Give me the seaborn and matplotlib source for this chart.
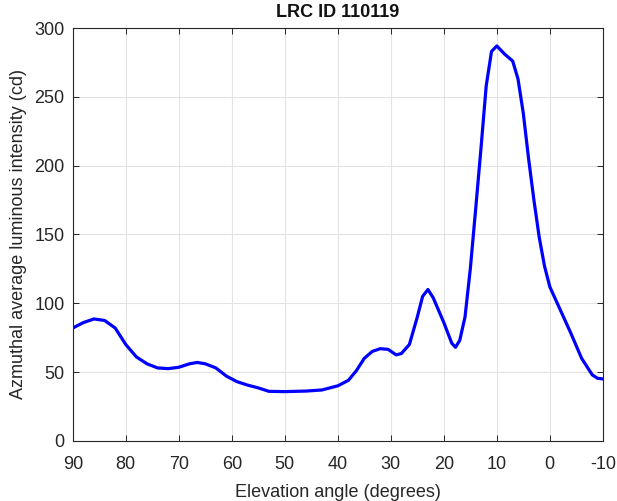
import matplotlib
matplotlib.use("Agg")
import matplotlib.pyplot as plt
import seaborn as sns
import pandas as pd

# Elevation angle (degrees) and azimuthal average luminous intensity (cd)
elevation = [90, 88, 86, 84, 82, 80, 78, 76, 74, 72, 70, 68, 66.5, 65, 63, 61, 59, 57,
             55, 53, 50, 46, 43, 40, 38, 36.5, 35, 33.5, 32, 30.5, 29, 28, 26.5, 25,
             24, 23, 22, 20, 18.5, 17.8, 17, 16, 15, 14, 13, 12, 11, 10, 8.5, 7, 6,
             5, 4, 3, 2, 1, 0, -2, -4, -6, -8, -9, -10]
intensity = [82, 86, 88.6, 87.5, 82, 70, 61, 56, 53, 52.5, 53.5, 56, 57, 56, 53, 47, 43,
             40.5, 38.5, 36, 35.8, 36.2, 37, 40, 44, 51, 60, 65, 67, 66.5, 62.5, 63.5,
             70, 90, 105, 110, 104, 86, 71, 68, 73, 90, 125, 168, 212, 258, 283, 287,
             281, 276, 263, 238, 205, 175, 148, 127, 112, 95, 78, 60, 48, 45.5, 45]

x_ticks = [90, 80, 70, 60, 50, 40, 30, 20, 10, 0, -10]
y_ticks = [0, 50, 100, 150, 200, 250, 300]

df = pd.DataFrame({"elevation": elevation, "intensity": intensity})

sns.set_theme(style="white")
plt.rcParams["font.family"] = ["Liberation Sans", "DejaVu Sans"]

fig = plt.figure(figsize=(6.17, 5.01), dpi=100)
ax = fig.add_axes([0.118, 0.12, 0.859, 0.824])

sns.lineplot(data=df, x="elevation", y="intensity", sort=False,
             color="#0000ff", linewidth=2.3, ax=ax)

ax.set_xlim(90, -10)
ax.set_ylim(0, 300)
ax.set_xticks(x_ticks)
ax.set_xticklabels([str(t) for t in x_ticks])
ax.set_yticks(y_ticks)
ax.grid(True, color="#e3e3e3", linewidth=0.8)
ax.set_axisbelow(True)
for side in ["left", "right", "top", "bottom"]:
    ax.spines[side].set_visible(True)
    ax.spines[side].set_color("#262626")
    ax.spines[side].set_linewidth(0.8)
ax.tick_params(axis="both", direction="in", length=4, width=0.7, color="#262626",
               labelsize=13, labelcolor="#262626", top=True, right=True,
               bottom=True, left=True)
ax.tick_params(axis="x", pad=11)
ax.tick_params(axis="y", pad=6)

ax.set_xlabel("Elevation angle (degrees)", fontsize=13, color="#262626", labelpad=8)
ax.set_ylabel("Azmuthal average luminous intensity (cd)", fontsize=13,
              color="#262626", labelpad=5)
ax.set_title("LRC ID 110119", fontsize=13, fontweight="bold", color="#111111", pad=8)

fig.savefig("out.png", dpi=100)
